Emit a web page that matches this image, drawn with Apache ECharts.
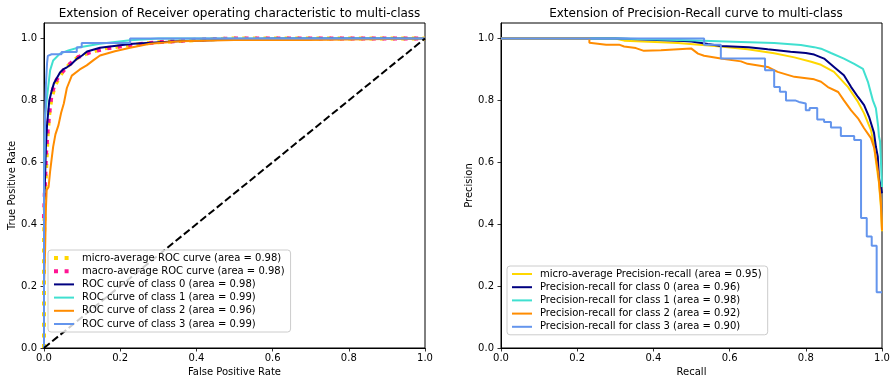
<!DOCTYPE html>
<html><head><meta charset="utf-8">
<script src="https://cdn.jsdelivr.net/npm/echarts@6/dist/echarts.min.js"></script>
<style>html,body{margin:0;padding:0;background:#fff}#c{width:896px;height:387px}</style>
</head><body><div id="c"></div>
<script>
// ---------- titles / labels ----------
const rocTitle = 'Extension of Receiver operating characteristic to multi-class';
const prTitle = 'Extension of Precision-Recall curve to multi-class';
const rocXName = 'False Positive Rate', rocYName = 'True Positive Rate';
const prXName = 'Recall', prYName = 'Precision';
const tickValues = [0, 0.2, 0.4, 0.6, 0.8, 1.0];

const rocNames = [
  'micro-average ROC curve (area = 0.98)',
  'macro-average ROC curve (area = 0.98)',
  'ROC curve of class 0 (area = 0.98)',
  'ROC curve of class 1 (area = 0.99)',
  'ROC curve of class 2 (area = 0.96)',
  'ROC curve of class 3 (area = 0.99)'
];
const prNames = [
  'micro-average Precision-recall (area = 0.95)',
  'Precision-recall for class 0 (area = 0.96)',
  'Precision-recall for class 1 (area = 0.98)',
  'Precision-recall for class 2 (area = 0.92)',
  'Precision-recall for class 3 (area = 0.90)'
];

// ---------- ROC data ----------
const rocMicroFpr = [0, 0, 0.003, 0.007, 0.01, 0.015, 0.02, 0.03, 0.04, 0.05, 0.07, 0.09, 0.12, 0.16, 0.22, 0.3, 0.43, 0.5, 1];
const rocMicroTpr = [0, 0.35, 0.5, 0.62, 0.7, 0.77, 0.81, 0.85, 0.875, 0.895, 0.92, 0.94, 0.955, 0.968, 0.978, 0.988, 0.997, 1, 1];
const rocMacroFpr = [0, 0.002, 0.005, 0.01, 0.015, 0.02, 0.03, 0.04, 0.05, 0.07, 0.09, 0.12, 0.16, 0.22, 0.3, 0.43, 0.5, 1];
const rocMacroTpr = [0.42, 0.5, 0.62, 0.71, 0.77, 0.82, 0.86, 0.88, 0.895, 0.92, 0.94, 0.955, 0.967, 0.978, 0.988, 0.998, 1, 1];
const roc0Fpr = [0, 0, 0.003, 0.005, 0.008, 0.011, 0.014, 0.02, 0.026, 0.035, 0.042, 0.05, 0.06, 0.07, 0.087, 0.1, 0.113, 0.147, 0.2, 0.234, 0.35, 0.5, 0.6, 1];
const roc0Tpr = [0, 0.45, 0.56, 0.65, 0.72, 0.76, 0.8, 0.83, 0.855, 0.875, 0.89, 0.9, 0.907, 0.915, 0.935, 0.945, 0.958, 0.97, 0.978, 0.983, 0.991, 0.997, 1, 1];
const roc1Fpr = [0, 0, 0.002, 0.003, 0.007, 0.016, 0.024, 0.042, 0.064, 0.094, 0.147, 0.226, 0.3, 1];
const roc1Tpr = [0, 0.55, 0.7, 0.747, 0.8, 0.897, 0.929, 0.951, 0.961, 0.972, 0.983, 0.994, 1, 1];
const roc2Fpr = [0, 0, 0.003, 0.005, 0.007, 0.012, 0.016, 0.02, 0.024, 0.03, 0.038, 0.045, 0.052, 0.06, 0.073, 0.094, 0.112, 0.13, 0.147, 0.186, 0.226, 0.278, 0.357, 0.5, 0.69, 0.69, 1];
const roc2Tpr = [0, 0.2, 0.32, 0.45, 0.51, 0.52, 0.57, 0.61, 0.65, 0.69, 0.72, 0.76, 0.79, 0.84, 0.88, 0.9, 0.913, 0.93, 0.945, 0.959, 0.97, 0.983, 0.991, 0.995, 0.995, 1, 1];
const roc3Fpr = [0, 0, 0.003, 0.005, 0.008, 0.01, 0.02, 0.046, 0.046, 0.086, 0.086, 0.099, 0.099, 0.226, 0.226, 1];
const roc3Tpr = [0, 0.55, 0.75, 0.85, 0.92, 0.944, 0.949, 0.949, 0.956, 0.956, 0.972, 0.972, 0.985, 0.985, 1, 1];
const diagX = [0, 1];
const diagY = [0, 1];

// ---------- Precision-Recall data ----------
const prMicroRecall = [0, 0.3, 0.323, 0.42, 0.464, 0.569, 0.647, 0.717, 0.77, 0.814, 0.84, 0.874, 0.911, 0.937, 0.953, 0.971, 0.978, 0.986, 0.992, 0.997, 1.0];
const prMicroPrec = [1, 1, 0.993, 0.988, 0.985, 0.975, 0.965, 0.952, 0.939, 0.925, 0.915, 0.892, 0.843, 0.795, 0.758, 0.704, 0.662, 0.586, 0.534, 0.458, 0.377];
const pr0Recall = [0, 0.306, 0.306, 0.48, 0.5, 0.543, 0.577, 0.65, 0.7, 0.76, 0.8, 0.822, 0.848, 0.874, 0.9, 0.919, 0.937, 0.953, 0.966, 0.979, 0.984, 0.989, 0.992, 1.0];
const pr0Prec = [1, 1, 0.994, 0.992, 0.99, 0.982, 0.976, 0.972, 0.965, 0.957, 0.953, 0.948, 0.935, 0.908, 0.881, 0.843, 0.811, 0.785, 0.747, 0.695, 0.65, 0.618, 0.55, 0.5];
const pr1Recall = [0, 0.31, 0.31, 0.49, 0.63, 0.717, 0.787, 0.822, 0.84, 0.866, 0.9, 0.927, 0.95, 0.963, 0.976, 0.984, 0.99, 0.992, 0.995, 0.997, 1.0];
const pr1Prec = [1, 1, 0.995, 0.994, 0.989, 0.985, 0.979, 0.972, 0.967, 0.953, 0.935, 0.918, 0.902, 0.86, 0.8, 0.774, 0.715, 0.683, 0.667, 0.608, 0.52];
const pr2Recall = [0, 0.232, 0.232, 0.276, 0.31, 0.323, 0.354, 0.375, 0.42, 0.499, 0.517, 0.533, 0.577, 0.63, 0.647, 0.7, 0.726, 0.77, 0.822, 0.84, 0.858, 0.885, 0.9, 0.919, 0.937, 0.953, 0.971, 0.98, 0.99, 0.997, 1.0];
const pr2Prec = [1, 1, 0.986, 0.98, 0.98, 0.974, 0.969, 0.96, 0.962, 0.968, 0.951, 0.944, 0.935, 0.926, 0.918, 0.908, 0.892, 0.876, 0.868, 0.86, 0.843, 0.827, 0.8, 0.768, 0.742, 0.71, 0.678, 0.645, 0.566, 0.47, 0.38];
// class 3 is drawn as a staircase (value holds until the next recall)
const pr3Recall = [0, 0.533, 0.577, 0.693, 0.717, 0.732, 0.748, 0.772, 0.782, 0.8, 0.81, 0.83, 0.848, 0.866, 0.892, 0.927, 0.945, 0.945, 0.96, 0.973, 0.986, 1.0];
const pr3Prec = [1, 0.98, 0.935, 0.897, 0.843, 0.828, 0.8, 0.795, 0.79, 0.768, 0.775, 0.738, 0.73, 0.712, 0.685, 0.672, 0.656, 0.42, 0.36, 0.33, 0.18, 0.18];

// ---------- colours ----------
const rocColors = ['#ffd700', '#ff1493', '#000080', '#40e0d0', '#ff8c00', '#6495ed'];
const prColors = ['#ffd700', '#000080', '#40e0d0', '#ff8c00', '#6495ed'];

const zip = (xs, ys) => xs.map((x, i) => [x, ys[i]]);
const FONT = 'DejaVu Sans';
const DOT = [4, 6.6];

function line(name, xs, ys, color, width, type, gi, extra) {
  return Object.assign({
    name, type: 'line', xAxisIndex: gi, yAxisIndex: gi, z: 2,
    data: zip(xs, ys), showSymbol: false, symbol: 'none',
    lineStyle: { color, width, type: type || 'solid' },
    itemStyle: { color },
    emphasis: { disabled: true }, silent: true, animation: false
  }, extra || {});
}

const rocSeries = [
  line(rocNames[0], rocMicroFpr, rocMicroTpr, rocColors[0], 4, DOT, 0),
  line(rocNames[1], rocMacroFpr, rocMacroTpr, rocColors[1], 4, DOT, 0),
  line(rocNames[2], roc0Fpr, roc0Tpr, rocColors[2], 2, 'solid', 0),
  line(rocNames[3], roc1Fpr, roc1Tpr, rocColors[3], 2, 'solid', 0),
  line(rocNames[4], roc2Fpr, roc2Tpr, rocColors[4], 2, 'solid', 0),
  line(rocNames[5], roc3Fpr, roc3Tpr, rocColors[5], 2, 'solid', 0),
  line('diagonal', diagX, diagY, '#000', 2, [7.4, 3.2], 0)
];
const prSeries = [
  line(prNames[0], prMicroRecall, prMicroPrec, prColors[0], 2, 'solid', 1),
  line(prNames[1], pr0Recall, pr0Prec, prColors[1], 2, 'solid', 1),
  line(prNames[2], pr1Recall, pr1Prec, prColors[2], 2, 'solid', 1),
  line(prNames[3], pr2Recall, pr2Prec, prColors[3], 2, 'solid', 1),
  line(prNames[4], pr3Recall, pr3Prec, prColors[4], 2, 'solid', 1, { step: 'end' })
];

const fmt = v => (Math.abs(v * 5 - Math.round(v * 5)) < 1e-6 ? v.toFixed(1) : '');

function xAxis(gi, name) {
  return {
    type: 'value', gridIndex: gi, min: 0, max: 1, interval: 0.2,
    name, nameLocation: 'middle', nameGap: 19,
    nameTextStyle: { fontFamily: FONT, fontSize: 10, color: '#000' },
    axisLine: { show: true, onZero: false, lineStyle: { color: '#000', width: 1 } },
    axisTick: { show: true, length: 3.5, lineStyle: { color: '#000', width: 0.8 } },
    axisLabel: { fontFamily: FONT, fontSize: 10, color: '#000', margin: 5, formatter: fmt, showMaxLabel: true, showMinLabel: true },
    splitLine: { show: false }
  };
}
function yAxis(gi, name, gap) {
  return {
    type: 'value', gridIndex: gi, min: 0, max: 1.05,
    name, nameLocation: 'middle', nameGap: gap,
    nameTextStyle: { fontFamily: FONT, fontSize: 10, color: '#000' },
    axisLine: { show: true, onZero: false, lineStyle: { color: '#000', width: 1 } },
    axisTick: { show: true, length: 3.5, customValues: tickValues, lineStyle: { color: '#000', width: 0.8 } },
    axisLabel: { fontFamily: FONT, fontSize: 10, color: '#000', margin: 7, customValues: tickValues, formatter: fmt },
    splitLine: { show: false }
  };
}

function legendData(names, dotted) {
  return names.map((n, i) => ({
    name: n,
    lineStyle: { width: dotted[i] ? 4 : 2 }
  }));
}
const legendCommon = {
  orient: 'vertical', itemWidth: 20, itemHeight: 12, itemGap: 3.2,
  padding: [3, 6, 3, 4], z: 50, zlevel: 0,
  backgroundColor: 'rgba(255,255,255,0.8)', borderColor: '#cccccc', borderWidth: 1, borderRadius: 3,
  textStyle: { fontFamily: FONT, fontSize: 10, color: '#000', padding: [0, 0, 0, 3] },
  itemStyle: { opacity: 0 },
  selectedMode: false, animation: false
};

const option = {
  animation: false,
  backgroundColor: '#fff',
  title: [
    { text: rocTitle, left: 234.5, top: 3, textAlign: 'center',
      textStyle: { fontFamily: FONT, fontSize: 12, fontWeight: 'normal', color: '#000' } },
    { text: prTitle, left: 691, top: 3, textAlign: 'center',
      textStyle: { fontFamily: FONT, fontSize: 12, fontWeight: 'normal', color: '#000' } }
  ],
  grid: [
    { left: 44, top: 23, width: 381, height: 325, show: true, borderColor: '#000', borderWidth: 1, backgroundColor: 'transparent' },
    { left: 501, top: 23, width: 381, height: 325, show: true, borderColor: '#000', borderWidth: 1, backgroundColor: 'transparent' }
  ],
  xAxis: [xAxis(0, rocXName), xAxis(1, prXName)],
  yAxis: [yAxis(0, rocYName, 27), yAxis(1, prYName, 25)],
  legend: [
    Object.assign({}, legendCommon, { left: 48, top: 250, data: legendData(rocNames, [1, 1, 0, 0, 0, 0]) }),
    Object.assign({}, legendCommon, { left: 507, top: 266, data: legendData(prNames, [0, 0, 0, 0, 0]) })
  ],
  series: rocSeries.concat(prSeries)
};

const chart = echarts.init(document.getElementById('c'), null, { renderer: 'canvas' });
chart.setOption(option);
</script></body></html>
